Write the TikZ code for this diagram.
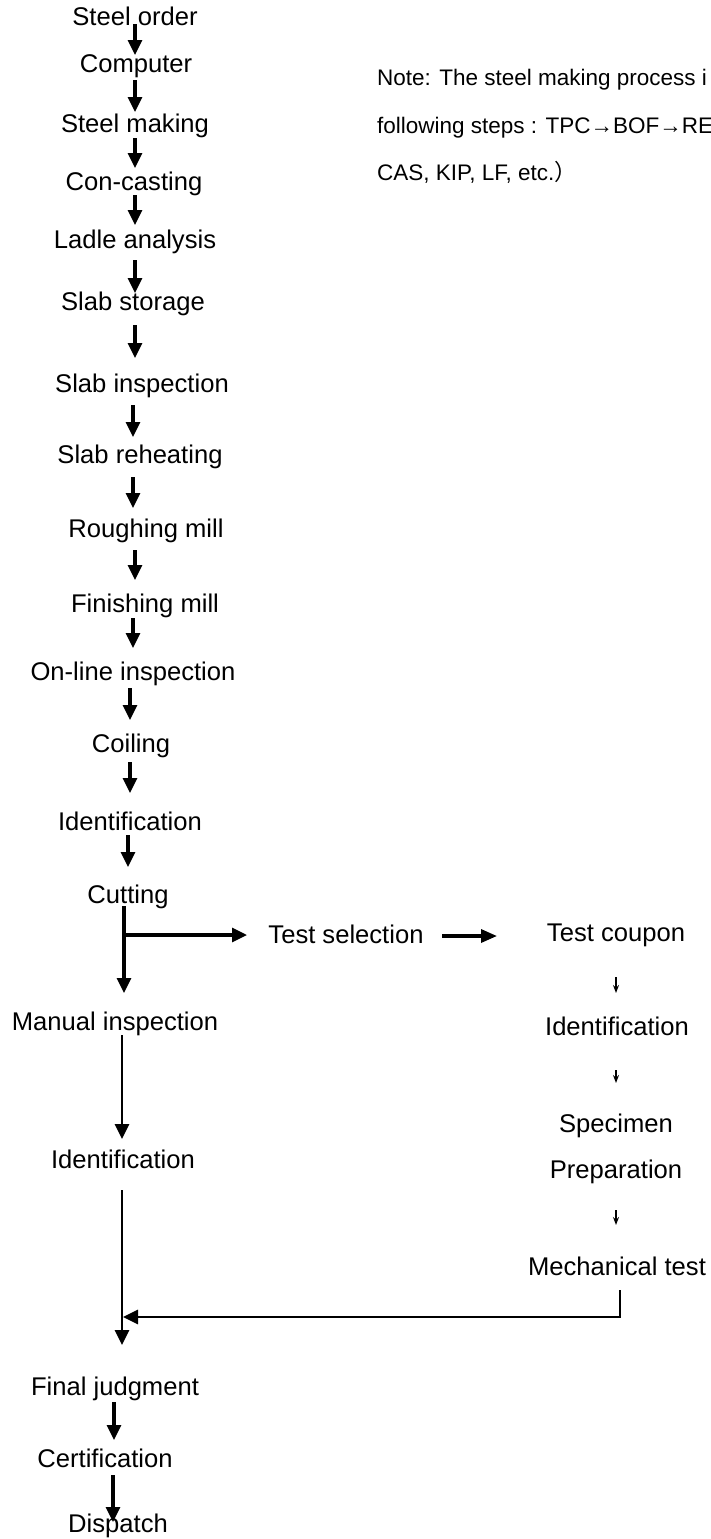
\documentclass[tikz,border=0pt]{standalone}
\usepackage{fontspec}
\setmainfont{Liberation Sans}
\newfontfamily\cjkfont{Noto Sans CJK SC}
\usetikzlibrary{arrows.meta,calc}
\begin{document}
\begin{tikzpicture}[x=1pt,y=-1pt,
  lbl/.style={anchor=base,inner sep=0pt,font=\fontsize{25.6}{30}\selectfont},
  note/.style={anchor=base west,inner sep=0pt,font=\fontsize{22.5}{27}\selectfont},
  flow/.style={line width=3.2pt,-{Triangle[length=15pt,width=14pt]}},
  longflow/.style={line width=2.8pt,-{Triangle[length=15pt,width=14pt]}},
  sideflow/.style={line width=3.2pt,-{Triangle[length=16pt,width=13pt]}},
  thinflow/.style={line width=1.4pt,-{Stealth[length=8pt,width=6pt]}}]
\useasboundingbox (0,0) rectangle (711,1539);
\fill[white] (0,0) rectangle (711,1539);
\clip (0,0) rectangle (711,1539);
% main column
\node[lbl] (so) at (135,25) {Steel order};
\node[lbl] (co) at (136,72) {Computer};
\node[lbl] (sm) at (135,132) {Steel making};
\node[lbl] (cc) at (134,190) {Con-casting};
\node[lbl] (la) at (135,248) {Ladle analysis};
\node[lbl] (ss) at (133,310) {Slab storage};
\node[lbl] (si) at (142,392) {Slab inspection};
\node[lbl] (sr) at (140,463) {Slab reheating};
\node[lbl] (rm) at (146,537) {Roughing mill};
\node[lbl] (fm) at (145,612) {Finishing mill};
\node[lbl] (ol) at (133,680) {On-line inspection};
\node[lbl] (cl) at (131,752) {Coiling};
\node[lbl] (id) at (130,830) {Identification};
\node[lbl] (cu) at (128,903) {Cutting};
\node[lbl] (mi) at (115,1030) {Manual inspection};
\node[lbl] (id2) at (123,1168) {Identification};
\node[lbl] (fj) at (115,1395) {Final judgment};
\node[lbl] (ce) at (105,1467) {Certification};
\node[lbl] (di) at (118,1532) {Dispatch};
% side branch
\node[lbl] (ts) at (346,943) {Test selection};
\node[lbl] (tc) at (616,941) {Test coupon};
\node[lbl] (idr) at (617,1035) {Identification};
\node[lbl] (sp) at (616,1132) {Specimen};
\node[lbl] (pr) at (616,1178) {Preparation};
\node[lbl] (mt) at (617,1275) {Mechanical test};
% note
\node[note] (n1) at (377,85) {Note: The steel making process i};
\node[note] (n2) at (377,133) {following steps : TPC→BOF→RE};
\node[note] (n3) at (377,180) {CAS, KIP, LF, etc.{\cjkfont ）}};
% connectors
\draw[flow] ($(so.base)+(0,-1)$) -- ($(co.base)+(-1,-17)$);
\draw[flow] ($(co.base)+(-1,8)$) -- ($(sm.base)+(0,-20)$);
\draw[flow] ($(sm.base)+(0,6)$) -- ($(cc.base)+(1,-22)$);
\draw[flow] ($(cc.base)+(1,5)$) -- ($(la.base)+(0,-23)$);
\draw[flow] ($(la.base)+(0,12)$) -- ($(ss.base)+(2,-17)$);
\draw[flow] ($(ss.base)+(2,15)$) -- ($(si.base)+(-7,-34)$);
\draw[flow] ($(si.base)+(-9,13)$) -- ($(sr.base)+(-7,-26)$);
\draw[flow] ($(sr.base)+(-7,14)$) -- ($(rm.base)+(-13,-29)$);
\draw[flow] ($(rm.base)+(-11,13)$) -- ($(fm.base)+(-10,-32)$);
\draw[flow] ($(fm.base)+(-12,6)$) -- ($(ol.base)+(0,-32)$);
\draw[flow] ($(ol.base)+(-3,8)$) -- ($(cl.base)+(-1,-32)$);
\draw[flow] ($(cl.base)+(-1,10)$) -- ($(id.base)+(0,-37)$);
\draw[flow] ($(id.base)+(-2,5)$) -- ($(cu.base)+(0,-36)$);
\draw[flow] ($(cu.base)+(-4,3)$) -- ($(mi.base)+(9,-37)$);
\coordinate (br) at ($(cu.base)+(-4,32)$);
\draw[flow] (br) -- ($(ts.base)+(-99,-8)$);
\draw[sideflow] ($(ts.base)+(96,-7)$) -- ($(tc.base)+(-119,-5)$);
\draw[longflow] ($(mi.base)+(7,5)$) -- ($(id2.base)+(-1,-29)$);
\draw[longflow] ($(id2.base)+(-1,22)$) -- ($(fj.base)+(7,-50)$);
\coordinate (jn) at ($(id2.base)+(0,149)$);
\draw[longflow] ($(mt.base)+(3,15)$) |- (jn);
\draw[flow] ($(fj.base)+(-1,7)$) -- ($(ce.base)+(9,-27)$);
\draw[flow] ($(ce.base)+(8,8)$) -- ($(di.base)+(-5,-10)$);
\draw[thinflow] ($(tc.base)+(0,36)$) -- ($(idr.base)+(-1,-42)$);
\draw[thinflow] ($(idr.base)+(-1,35)$) -- ($(sp.base)+(0,-49)$);
\draw[thinflow] ($(pr.base)+(0,32)$) -- ($(mt.base)+(-1,-50)$);
\end{tikzpicture}
\end{document}
